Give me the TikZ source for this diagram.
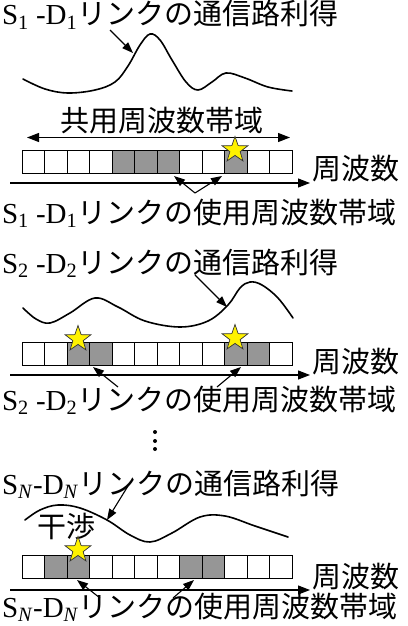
\documentclass[tikz,border=0pt]{standalone}
\usepackage{fontspec}
\setmainfont{Liberation Serif}
\newfontfamily\jp{Noto Sans CJK JP}
\usetikzlibrary{arrows.meta,shapes.geometric}
\definecolor{cellgray}{RGB}{150,150,150}
\begin{document}
\begin{tikzpicture}[x=1pt,y=-1pt,
  lbl/.style={inner sep=0,outer sep=0,font=\fontsize{29}{30}\selectfont},
  cell/.style={draw,line width=0.9pt,minimum width=22.5pt,minimum height=23pt,inner sep=0,outer sep=0,fill=white},
  graycell/.style={cell,fill=cellgray},
  gain/.style={line width=1.6pt,line join=round,line cap=round},
  pointer/.style={line width=1.1pt,-{Triangle[length=11pt,width=8pt]}},
  axisline/.style={line width=1.1pt,-{Triangle[length=12pt,width=9pt]}},
  bothline/.style={line width=1.1pt,{Triangle[length=12pt,width=9pt]}-{Triangle[length=12pt,width=9pt]}},
  hit/.style={star,star points=5,star point ratio=2.5,minimum size=27pt,inner sep=0,draw=black!80,line width=0.7pt,fill=yellow},
  dotmark/.style={circle,fill=black,inner sep=0,minimum size=4pt}
]
\fill[white] (0,0) rectangle (407,626);
\useasboundingbox (0,0) rectangle (407,626);

% ---------------- Row 1 ----------------
\node[lbl,anchor=base west] (t1) at (2,25) {S\textsubscript{1} -D\textsubscript{1}{\jp リンクの通信路利得}};
\draw[gain] plot[smooth,tension=0.6] coordinates {(23,79) (45,89) (68,93) (95,90) (115,82) (128,66) (140,45) (150,34) (160,40) (172,60) (186,82) (198,90) (212,82) (226,73) (245,78) (268,87) (292,91)};
\coordinate (p1) at (110,30);
\coordinate (q1) at (133,53);
\draw[pointer] (p1) -- (q1);
\node[lbl,anchor=base] (band) at (161.5,131) {\jp 共用周波数帯域};
\coordinate (bl) at (27,137.5);
\coordinate (br) at (290,137.5);
\draw[bothline] (bl) -- (br);
\foreach \i in {0,...,11} \node[cell] (a\i) at ({33.25+22.5*\i},161.5) {};
\foreach \i in {4,5,6,9} \node[graycell] at (a\i) {};
\node[hit] (s1) at (235,150) {};
\coordinate (x1s) at (10,183);
\coordinate (x1e) at (310,183);
\draw[axisline] (x1s) -- (x1e);
\node[lbl,anchor=base west] (f1) at (312,179) {\jp 周波数};
\coordinate (u1) at (195,193);
\coordinate (v1) at (174,176);
\coordinate (w1) at (222,176);
\draw[pointer] (u1) -- (v1);
\draw[pointer] (u1) -- (w1);
\node[lbl,anchor=base west] (l1) at (2,223) {S\textsubscript{1} -D\textsubscript{1}{\jp リンクの使用周波数帯域}};

% ---------------- Row 2 ----------------
\node[lbl,anchor=base west] (t2) at (2,273) {S\textsubscript{2} -D\textsubscript{2}{\jp リンクの通信路利得}};
\draw[gain] plot[smooth,tension=0.6] coordinates {(23,308) (36,319) (50,323) (70,313) (95,298) (118,307) (145,321) (180,327) (208,321) (228,305) (240,288) (250,282) (262,285) (278,298) (293,318)};
\coordinate (p2) at (195,275);
\coordinate (q2) at (227,307);
\draw[pointer] (p2) -- (q2);
\foreach \i in {0,...,11} \node[cell] (b\i) at ({33.25+22.5*\i},353.5) {};
\foreach \i in {2,3,9,10} \node[graycell] at (b\i) {};
\node[hit] (s2a) at (78,339) {};
\node[hit] (s2b) at (235,338) {};
\coordinate (x2s) at (10,375);
\coordinate (x2e) at (310,375);
\draw[axisline] (x2s) -- (x2e);
\node[lbl,anchor=base west] (f2) at (312,372) {\jp 周波数};
\coordinate (u2a) at (118,387);
\coordinate (v2) at (93,367);
\coordinate (u2b) at (217,387);
\coordinate (w2) at (241,367);
\draw[pointer] (u2a) -- (v2);
\draw[pointer] (u2b) -- (w2);
\node[lbl,anchor=base west] (l2) at (2,410) {S\textsubscript{2} -D\textsubscript{2}{\jp リンクの使用周波数帯域}};

% ---------------- dots ----------------
\node[dotmark] (d1) at (155,432) {};
\node[dotmark] (d2) at (155,441) {};
\node[dotmark] (d3) at (155,449) {};

% ---------------- Row N ----------------
\node[lbl,anchor=base west] (t3) at (2,494) {S\textsubscript{\textit{N}}-D\textsubscript{\textit{N}}{\jp リンクの通信路利得}};
\draw[gain] plot[smooth,tension=0.6] coordinates {(25,520) (40,510) (58,505) (80,508) (107,520) (130,535) (150,542) (172,533) (200,517) (225,516) (255,526) (288,537)};
\coordinate (p3) at (128,486);
\coordinate (q3) at (107,520);
\draw[pointer] (p3) -- (q3);
\node[lbl,anchor=base west] (intf) at (37,537) {\jp 干渉};
\foreach \i in {0,...,11} \node[cell] (c\i) at ({33.25+22.5*\i},566.5) {};
\foreach \i in {1,2,7,8} \node[graycell] at (c\i) {};
\node[hit] (s3) at (78,550) {};
\coordinate (x3s) at (10,590);
\coordinate (x3e) at (310,590);
\draw[axisline] (x3s) -- (x3e);
\node[lbl,anchor=base west] (f3) at (312,587) {\jp 周波数};
\coordinate (u3a) at (100,598);
\coordinate (v3) at (77,580);
\coordinate (u3b) at (173,598);
\coordinate (w3) at (194,580);
\draw[pointer] (u3a) -- (v3);
\draw[pointer] (u3b) -- (w3);
\node[lbl,anchor=base west] (l3) at (2,617) {S\textsubscript{\textit{N}}-D\textsubscript{\textit{N}}{\jp リンクの使用周波数帯域}};
\end{tikzpicture}
\end{document}
